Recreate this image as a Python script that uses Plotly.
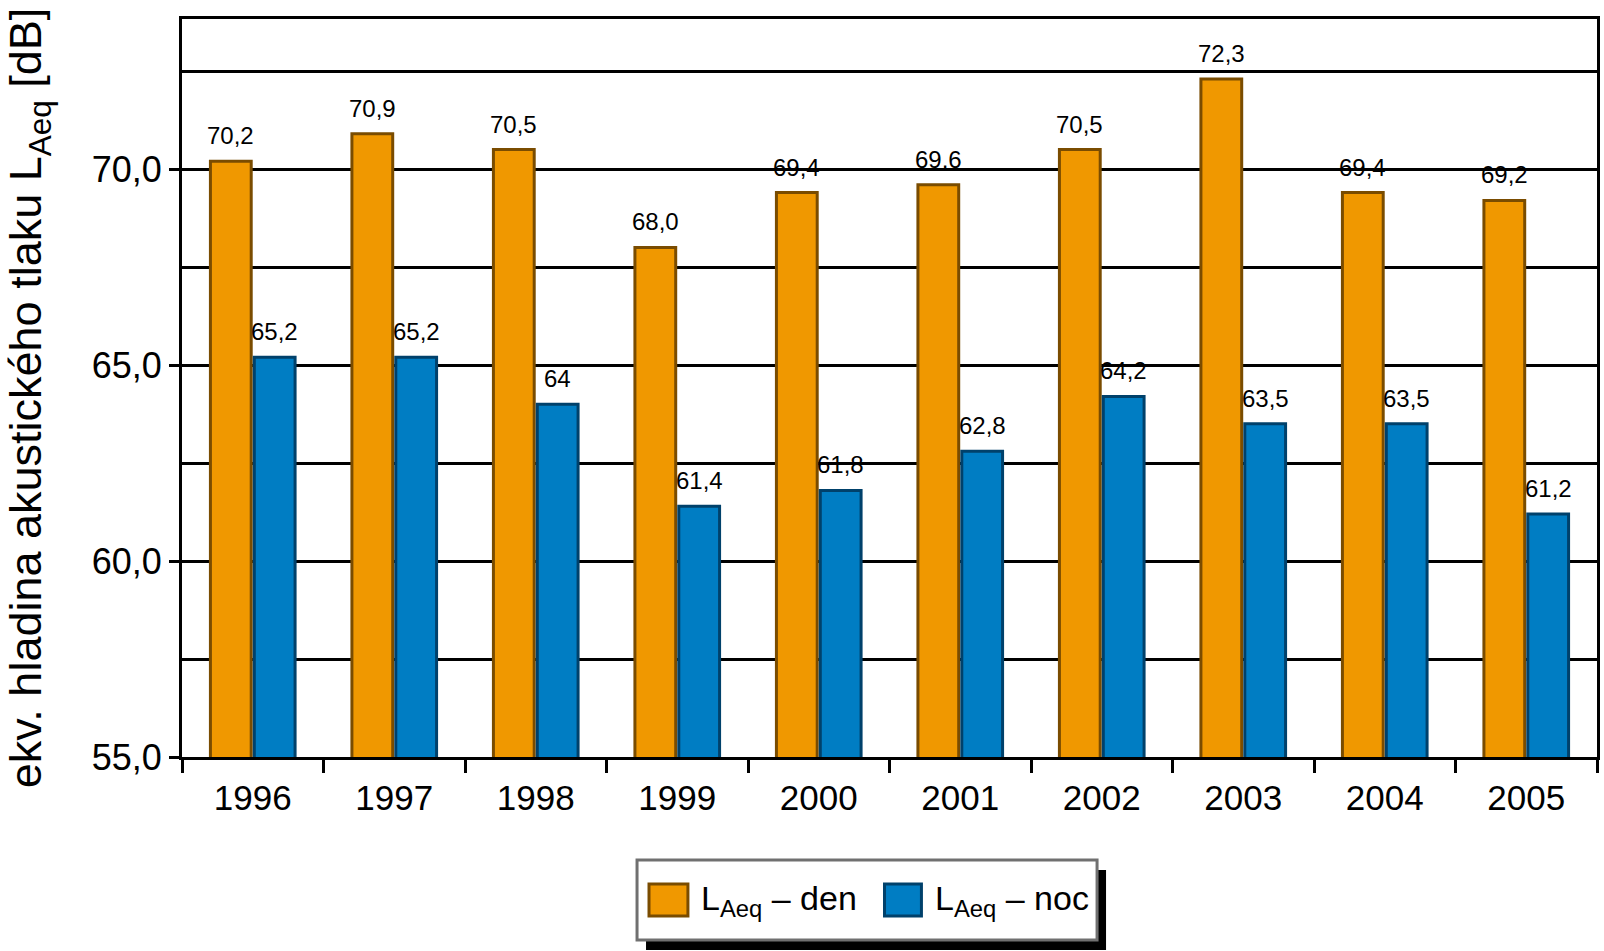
import plotly.graph_objects as go

years = ["1996", "1997", "1998", "1999", "2000", "2001", "2002", "2003", "2004", "2005"]
den = [70.2, 70.9, 70.5, 68.0, 69.4, 69.6, 70.5, 72.3, 69.4, 69.2]
noc = [65.2, 65.2, 64.0, 61.4, 61.8, 62.8, 64.2, 63.5, 63.5, 61.2]
den_labels = ["70,2", "70,9", "70,5", "68,0", "69,4", "69,6", "70,5", "72,3", "69,4", "69,2"]
noc_labels = ["65,2", "65,2", "64", "61,4", "61,8", "62,8", "64,2", "63,5", "63,5", "61,2"]

FONT = "Liberation Sans, Arial, sans-serif"
ORANGE = "#F09800"
ORANGE_EDGE = "#7A4C00"
BLUE = "#007DC3"
BLUE_EDGE = "#00416B"

# plot area in pixels (for the hand-drawn legend box)
L, R, T, B = 182, 1600, 19, 757
def px(x):
    return (x - L) / (R - L)
def py(y):
    return (B - y) / (B - T)

BARGAP = 0.38
slot_px = (R - L) / len(years) * (1 - BARGAP) / 2  # width of one bar slot in a group

fig = go.Figure()
fig.add_trace(go.Bar(
    x=years, y=den, name="den",
    marker=dict(color=ORANGE, line=dict(color=ORANGE_EDGE, width=3)),
))
fig.add_trace(go.Bar(
    x=years, y=noc, name="noc",
    marker=dict(color=BLUE, line=dict(color=BLUE_EDGE, width=3)),
))

annotations = []
for series, labels, shift in [(den, den_labels, -slot_px / 2), (noc, noc_labels, slot_px / 2)]:
    for i, (v, lbl) in enumerate(zip(series, labels)):
        annotations.append(dict(
            x=i, y=v, xref="x", yref="y", text=lbl, showarrow=False,
            xanchor="center", yanchor="bottom", xshift=shift, yshift=10,
            font=dict(family=FONT, size=24, color="black"),
        ))

shapes = [
    # legend shadow
    dict(type="rect", xref="paper", yref="paper", x0=px(647), x1=px(1108), y0=py(950), y1=py(870),
         fillcolor="black", line=dict(width=0), layer="above"),
    # legend box
    dict(type="rect", xref="paper", yref="paper", x0=px(638), x1=px(1099), y0=py(940), y1=py(860),
         fillcolor="white", line=dict(color="#707070", width=3), layer="above"),
    # swatches
    dict(type="rect", xref="paper", yref="paper", x0=px(650), x1=px(689), y0=py(916), y1=py(884),
         fillcolor=ORANGE, line=dict(color=ORANGE_EDGE, width=3), layer="above"),
    dict(type="rect", xref="paper", yref="paper", x0=px(886), x1=px(923), y0=py(916), y1=py(884),
         fillcolor=BLUE, line=dict(color=BLUE_EDGE, width=3), layer="above"),
]
annotations += [
    dict(xref="paper", yref="paper", x=px(700), y=py(900), xanchor="left", yanchor="middle",
         text="L<sub>Aeq</sub> – den", showarrow=False, font=dict(family=FONT, size=34, color="black")),
    dict(xref="paper", yref="paper", x=px(935), y=py(900), xanchor="left", yanchor="middle",
         text="L<sub>Aeq</sub> – noc", showarrow=False, font=dict(family=FONT, size=34, color="black")),
    # y-axis title
    dict(xref="paper", yref="paper", x=px(28), y=py(398), xanchor="center", yanchor="middle",
         textangle=-90, text="ekv. hladina akustického tlaku L<sub>Aeq</sub> [dB]", showarrow=False,
         font=dict(family=FONT, size=45, color="black")),
]

fig.update_layout(
    width=1604, height=951,
    margin=dict(l=L, r=1604 - R, t=T, b=951 - B),
    paper_bgcolor="white", plot_bgcolor="white",
    barmode="group", bargap=BARGAP, bargroupgap=0.07,
    showlegend=False,
    separators=", ",
    font=dict(family=FONT, color="black"),
    shapes=shapes, annotations=annotations,
)
fig.update_xaxes(
    type="category", range=[-0.5, len(years) - 0.5], autorange=False,
    showline=True, linecolor="black", linewidth=3, mirror=True,
    ticks="outside", tickson="boundaries", ticklen=13, tickwidth=3, tickcolor="black",
    ticklabelstandoff=8,
    tickfont=dict(family=FONT, size=35, color="black"), showgrid=False,
)
fig.update_yaxes(
    range=[55, 73.83], showline=True, linecolor="black", linewidth=3, mirror=True,
    tickvals=[55, 60, 65, 70], tickformat=".1f", ticks="outside", ticklen=10, tickwidth=3, tickcolor="black",
    tickfont=dict(family=FONT, size=36, color="black"),
    showgrid=True, gridcolor="black", gridwidth=3,
    minor=dict(tickvals=[57.5, 62.5, 67.5, 72.5], showgrid=True, gridcolor="black", gridwidth=3, ticks=""),
    zeroline=False,
)

fig.write_html("out.html")
